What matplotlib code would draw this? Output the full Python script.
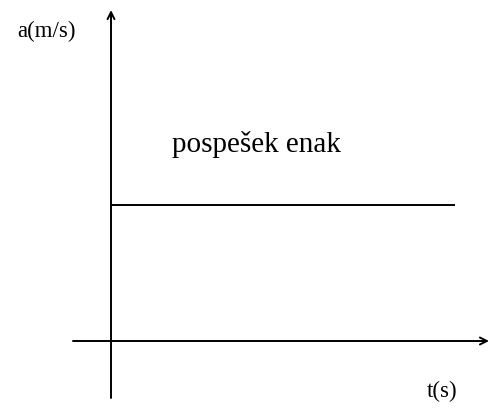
import matplotlib
matplotlib.use("Agg")
import matplotlib.pyplot as plt

# constant acceleration: a(t) = const
t_vals = [0, 10]
a_vals = [3, 3]

x_label = "t(s)"
y_label = "a(m/s)"
note = "pospešek enak"

plt.rcParams["font.family"] = ["Liberation Serif", "DejaVu Serif"]

fig = plt.figure(figsize=(4.92, 4.08), dpi=100)
ax = fig.add_axes([0, 0, 1, 1])
ax.set_xlim(-3.227, 11.076)
ax.set_ylim(-1.478, 7.522)
ax.axis("off")

# axes with arrow heads
arrow = dict(arrowstyle="->,head_length=0.5,head_width=0.25", color="black",
             lw=1.4, shrinkA=0, shrinkB=0)
ax.annotate("", xy=(10.99, 0), xytext=(-1.105, 0), arrowprops=arrow)
ax.annotate("", xy=(0, 7.30), xytext=(0, -1.257), arrowprops=arrow)

ax.plot(t_vals, a_vals, color="black", lw=1.4, solid_capstyle="butt")

ax.text(-1.875, 6.82, y_label, fontsize=16.5, ha="center", va="center")
ax.text(9.61, -1.12, x_label, fontsize=16.5, ha="center", va="center")
ax.text(4.23, 4.33, note, fontsize=21, ha="center", va="center")

fig.savefig("out.png", dpi=100)
